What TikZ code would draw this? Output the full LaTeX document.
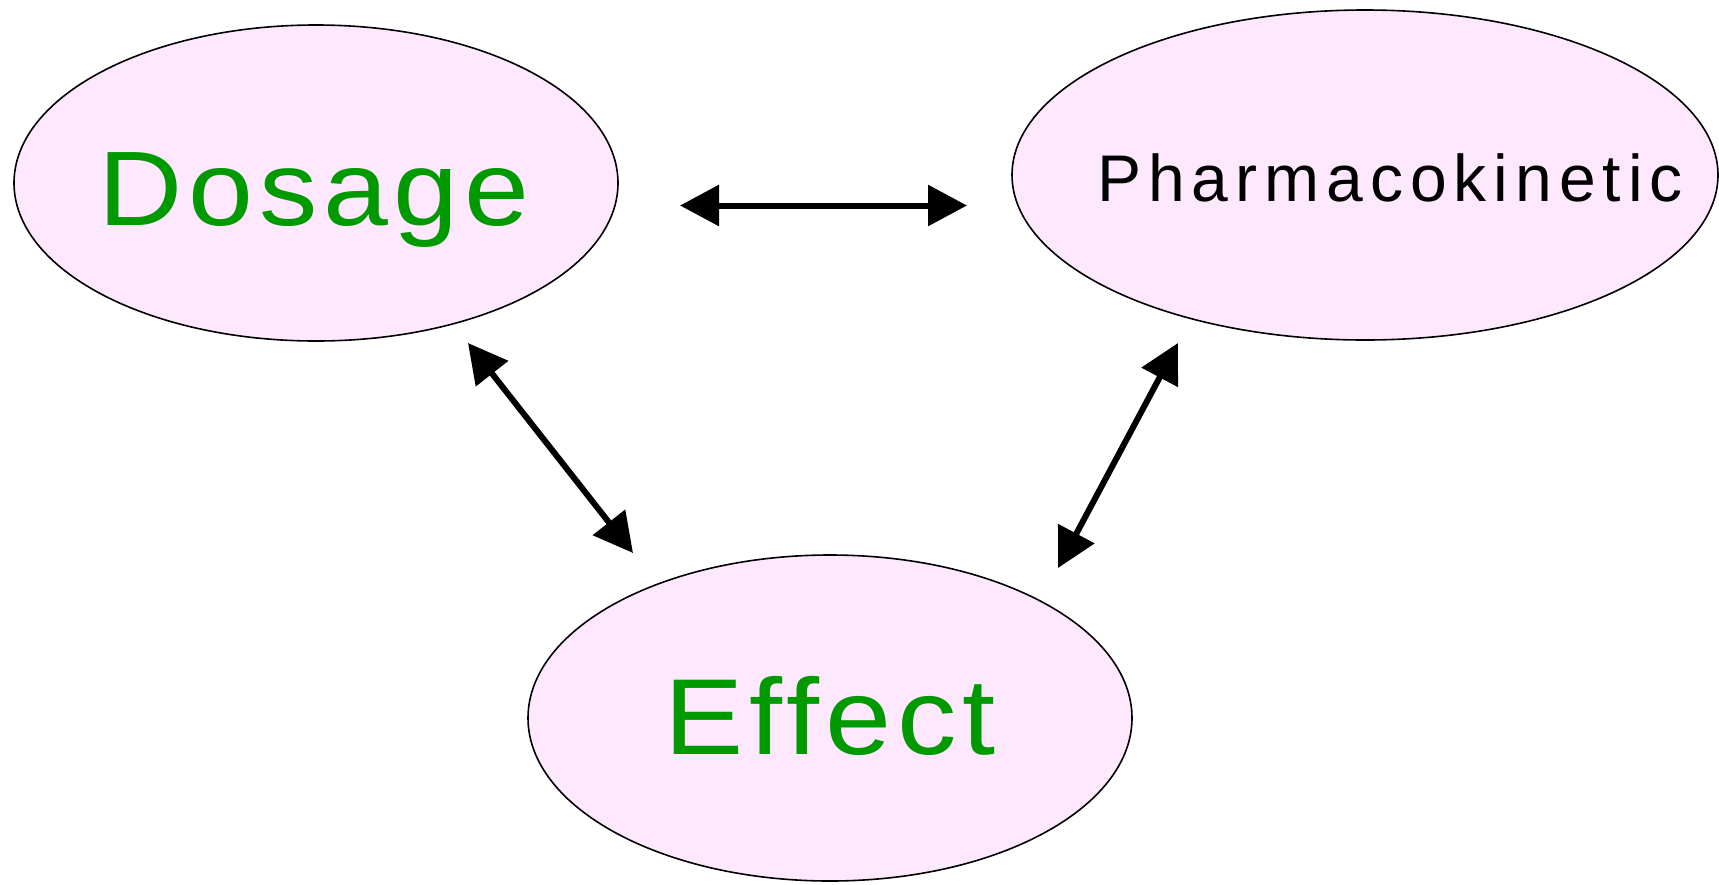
\documentclass[tikz,border=0pt]{standalone}
\usepackage{fontspec}
\setmainfont{Liberation Sans}
\newfontfamily\bigfont[LetterSpace=5]{Liberation Sans}
\newfontfamily\pkfont[LetterSpace=10.6]{Liberation Sans}
\usetikzlibrary{shapes.geometric,arrows.meta}
\definecolor{bubble}{RGB}{253,232,253}
\definecolor{lbl}{RGB}{0,153,0}
\tikzset{
  bubble/.style={ellipse, draw=black, line width=1.6pt, fill=bubble, inner sep=0pt},
  biglbl/.style={anchor=base, inner sep=0pt, text=lbl, xscale=1.1, transform shape},
  pklbl/.style={anchor=base, inner sep=0pt, text=black, font=\pkfont\fontsize{66}{70}\selectfont},
  link/.style={line width=6pt, {Triangle[length=39pt,width=40pt]}-{Triangle[length=39pt,width=40pt]}}
}
\begin{document}
\begin{tikzpicture}[x=1pt,y=-1pt]
\useasboundingbox (0,0) rectangle (1719,884);
\node[bubble, minimum width=604pt, minimum height=316pt] (dos) at (316,183) {};
\node[bubble, minimum width=706pt, minimum height=330pt] (pk) at (1365,175) {};
\node[bubble, minimum width=604pt, minimum height=326pt] (eff) at (830,718) {};
\node[biglbl, font=\bigfont\fontsize{106}{110}\selectfont] (tdos) at (314,225) {Dosage};
\node[biglbl, font=\bigfont\fontsize{108}{112}\selectfont] (teff) at (830,754) {Effect};
\node[pklbl] (tpk) at (1390,201) {Pharmacokinetic};
\coordinate (h1) at (680,205.5);
\coordinate (h2) at (967,205.5);
\coordinate (d1) at (468,343);
\coordinate (d2) at (633,553);
\coordinate (p1) at (1178,343);
\coordinate (p2) at (1058,568);
\draw[link] (h1) -- (h2);
\draw[link] (d1) -- (d2);
\draw[link] (p1) -- (p2);
\end{tikzpicture}
\end{document}
